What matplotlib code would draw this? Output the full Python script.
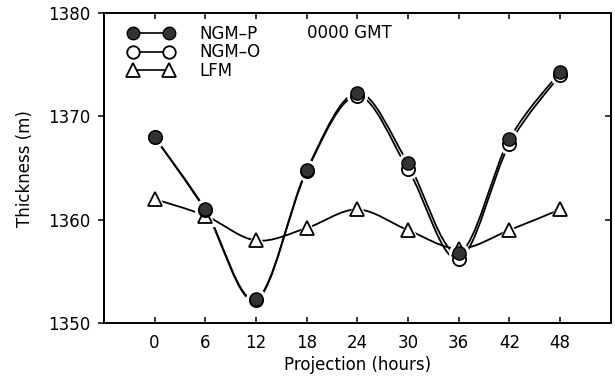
import matplotlib
matplotlib.use("Agg")
import matplotlib.pyplot as plt
import numpy as np
from matplotlib.path import Path
from matplotlib.patches import PathPatch

plt.rcParams["font.family"] = "DejaVu Sans"

hours = [0, 6, 12, 18, 24, 30, 36, 42, 48]
ngm_p = [1368.0, 1361.0, 1352.3, 1364.8, 1372.3, 1365.5, 1356.8, 1367.8, 1374.3]
ngm_o = [1368.0, 1360.9, 1352.2, 1364.7, 1372.0, 1364.9, 1356.2, 1367.3, 1374.0]
lfm = [1362.0, 1360.4, 1358.0, 1359.2, 1361.0, 1359.0, 1357.2, 1359.0, 1361.0]


def smooth_path(x, y):
    # Catmull-Rom curve through the points, as cubic Bezier segments
    p = np.column_stack([x, y]).astype(float)
    ext = np.vstack([p[0], p, p[-1]])
    verts = [p[0]]
    codes = [Path.MOVETO]
    for i in range(len(p) - 1):
        a, b, c, d = ext[i], ext[i + 1], ext[i + 2], ext[i + 3]
        verts += [b + (c - a) / 6, c - (d - b) / 6, c]
        codes += [Path.CURVE4] * 3
    return Path(verts, codes)


fig = plt.figure(figsize=(6.15, 3.77), dpi=100)
ax = fig.add_axes([0.169, 0.143, 0.824, 0.822])

for ys in (ngm_p, ngm_o, lfm):
    ax.add_patch(PathPatch(smooth_path(hours, ys), fill=False, lw=1.3,
                           ec="black", zorder=2))

# white halos so the curves stop short of the markers
ax.plot(hours, lfm, "^", ms=15, color="white", mec="white", ls="none", zorder=3)
ax.plot(hours, ngm_o, "o", ms=14, color="white", mec="white", ls="none", zorder=3)
ax.plot(hours, ngm_p, "o", ms=14, color="white", mec="white", ls="none", zorder=3)

ax.plot(hours, lfm, "^", ms=10, mfc="white", mec="black", mew=1.3,
        ls="none", zorder=4)
ax.plot(hours, ngm_o, "o", ms=9.5, mfc="white", mec="black", mew=1.3,
        ls="none", zorder=4)
ax.plot(hours, ngm_p, "o", ms=9.5, mfc="#333333", mec="black", mew=1.0,
        ls="none", zorder=5)

# legend handles
h_p, = ax.plot([], [], "o-", color="black", mfc="#333333", ms=9, lw=1.2)
h_o, = ax.plot([], [], "o-", color="black", mfc="white", ms=9, lw=1.2, mew=1.3)
h_l, = ax.plot([], [], "^-", color="black", mfc="white", ms=9.5, lw=1.2, mew=1.3)
ax.legend([h_p, h_o, h_l], ["NGM\u2013P", "NGM\u2013O", "LFM"], loc="upper left",
          bbox_to_anchor=(0.035, 0.985), numpoints=2, handlelength=2.75,
          frameon=False, fontsize=12, borderaxespad=0, labelspacing=0.05,
          handletextpad=1.5)

ax.text(0.40, 0.935, "0000 GMT", transform=ax.transAxes, fontsize=12,
        ha="left", va="center")

ax.set_xlim(-6, 54)
ax.set_ylim(1350, 1380)
ax.set_xticks(hours)
ax.set_yticks([1350, 1360, 1370, 1380])
ax.tick_params(axis="x", direction="in", top=True, length=4, width=1.1,
               labelsize=12, pad=8)
ax.tick_params(axis="y", direction="out", length=4, width=1.1, labelsize=12,
               pad=6)
for s in ax.spines.values():
    s.set_linewidth(1.3)

ax_r = ax.twinx()
ax_r.set_ylim(1350, 1380)
ax_r.set_yticks([1350, 1360, 1370, 1380])
ax_r.tick_params(axis="y", direction="in", length=4, width=1.1, labelright=False)
for s in ax_r.spines.values():
    s.set_linewidth(1.3)

ax.set_xlabel("Projection (hours)", fontsize=12, labelpad=3)
ax.set_ylabel("Thickness (m)", fontsize=12, labelpad=10)

fig.savefig("out.png", dpi=100)
